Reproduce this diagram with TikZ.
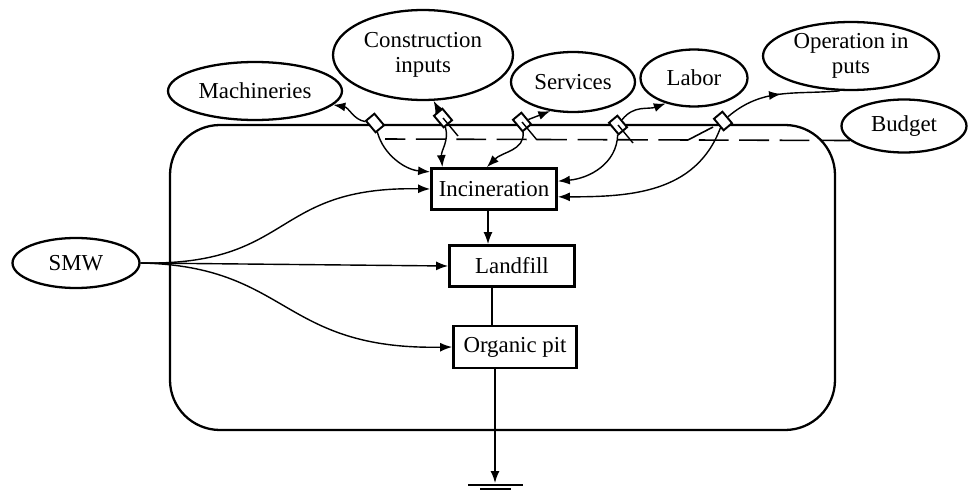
\documentclass[tikz,border=0pt]{standalone}
\usepackage{fontspec}
\setmainfont{Liberation Serif}
\usetikzlibrary{shapes.geometric,arrows.meta,decorations.markings}

\begin{document}
\begin{tikzpicture}[x=0.02cm,y=-0.02cm,
        every node/.style={font=\fontsize{13}{14}\selectfont},
        src/.style={ellipse,draw,line width=1.3pt,inner sep=0pt,align=center},
        proc/.style={rectangle,draw,line width=1.6pt,inner sep=0pt},
        valve/.style={rectangle,draw,fill=white,line width=1.1pt,minimum width=0.22cm,minimum height=0.3cm,rotate=40,inner sep=0pt},
        flow/.style={line width=0.8pt,-{Latex[length=2.4mm,width=1.8mm]}},
        budg/.style={line width=0.9pt,dash pattern=on 17pt off 6pt}]
    \useasboundingbox (0,0) rectangle (968,490);

    % boundary of the system
    \draw[line width=1.3pt,rounded corners=1cm] (170,125) rectangle (835,430);

    % outside sources
    \node[src,minimum width=2.54cm,minimum height=1.0cm] (smw) at (76,263) {SMW};
    \node[src,minimum width=3.48cm,minimum height=1.16cm] (mach) at (255,91) {Machineries};
    \node[src,minimum width=3.6cm,minimum height=1.8cm] (cons) at (423,55) {Construction\\inputs};
    \node[src,minimum width=2.48cm,minimum height=1.2cm] (serv) at (573,82) {Services};
    \node[src,minimum width=2.14cm,minimum height=1.14cm] (labor) at (694,78) {Labor};
    \node[src,minimum width=3.52cm,minimum height=1.36cm] (oper) at (851,56) {Operation in\\puts};
    \node[src,minimum width=2.5cm,minimum height=1.06cm] (budget) at (904,126) {Budget};

    % treatment options
    \node[proc,minimum width=2.5cm,minimum height=0.82cm] (inc) at (494,189) {Incineration};
    \node[proc,minimum width=2.5cm,minimum height=0.82cm] (lf) at (512,266) {Landfill};
    \node[proc,minimum width=2.46cm,minimum height=0.84cm] (org) at (515,347) {Organic pit};

    % budget line
    \coordinate (dl) at (385,139);
    \coordinate (dk) at (688,140);
    \draw[budg] (budget.195) -- (dl);
    \draw[budg] (dk) -- (713,127);

    % valves
    \foreach \n/\x/\y in {1/375/123,2/443/118,3/522/122,4/618/125,5/723/121}{
        \node[valve] (v\n) at (\x,\y) {};
    }
    \foreach \n in {2,3,4}{
        \draw[line width=0.8pt] (v\n.center) -- ++(15,18);
    }

    % flows out to the sources
    \draw[flow] (v1) to[out=160,in=-10] (mach.-10);
    \draw[flow] (v2) -- (cons.283);
    \draw[flow] (v3) -- (serv.232);
    \draw[flow] (v4) to[out=40,in=200] (labor.222);
    \draw[line width=0.8pt,postaction=decorate,
        decoration={markings,mark=at position 0.5 with {\arrow{Latex[length=2.4mm,width=1.8mm]}}}]
        (v5) to[out=35,in=185] (oper.252);

    % flows into incineration
    \draw[flow] (v1) to[out=-85,in=175] (inc.165);
    \draw[flow] (v2) to[out=-88,in=95] (inc.157);
    \draw[flow] (v3) to[out=-95,in=45] (inc.108);
    \draw[flow] (v4) to[out=-100,in=5] (inc.7);
    \draw[flow] (v5) to[out=-115,in=0] (inc.-7);

    % waste streams
    \draw[flow] (smw.east) .. controls (295,266) and (270,186) .. (inc.west);
    \draw[flow] (smw.east) -- (lf.west);
    \draw[flow] (smw.east) .. controls (290,266) and (280,350) .. (org.west);
    \coordinate (s1) at (488,0);
    \coordinate (s2) at (492,0);
    \draw[flow] (s1 |- inc.south) -- (s1 |- lf.north);
    \draw[line width=0.8pt] (s2 |- lf.south) -- (s2 |- org.north);

    % ground
    \coordinate (g) at (495,483);
    \draw[flow] (g |- org.south) -- (g);
    \draw[line width=1.2pt] (468,485) -- (523,485);
    \draw[line width=1.2pt] (480,489) -- (511,489);
\end{tikzpicture}
\end{document}
